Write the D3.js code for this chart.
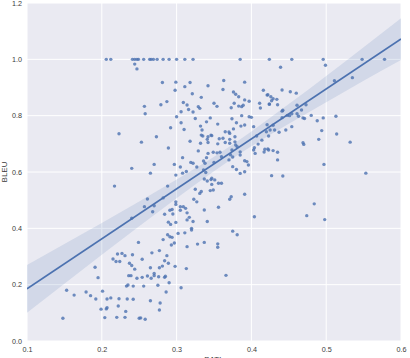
<!DOCTYPE html>
<html>
<head>
<meta charset="utf-8">
<script src="https://cdn.jsdelivr.net/npm/d3@7"></script>
<style>
    body { margin: 0; background: #fff; }
    svg { display: block; font-family: "Liberation Sans", Arial, sans-serif; }
</style>
</head>
<body>
<svg width="410" height="358"></svg>
<script>
// Scatter data: BATL score (x) and BLEU score (y), same index = same sentence
const batl = [
    0.206, 0.212, 0.241, 0.244, 0.247, 0.249, 0.256, 0.264, 0.266, 0.269, 0.274, 0.282, 0.290, 0.300, 0.311, 0.322, 0.385, 0.424, 0.454, 0.496, 0.548, 0.578,
    0.244, 0.247,
    0.281, 0.299, 0.318, 0.311, 0.298, 0.342, 0.363, 0.362, 0.321, 0.333, 0.376, 0.379, 0.383, 0.391, 0.391, 0.397, 0.416, 0.421,
    0.257, 0.279, 0.287, 0.309, 0.314, 0.329, 0.331, 0.316, 0.306, 0.322, 0.350, 0.354, 0.373, 0.377, 0.383, 0.387, 0.389, 0.411, 0.412, 0.424,
    0.258, 0.300, 0.345, 0.387, 0.397, 0.400, 0.374,
    0.439, 0.499, 0.511, 0.535, 0.441, 0.452, 0.460, 0.422, 0.426, 0.429, 0.434, 0.427, 0.424, 0.435, 0.461, 0.473, 0.442, 0.467, 0.454, 0.461, 0.448, 0.463, 0.480, 0.469, 0.496, 0.513,
    0.340, 0.355, 0.332, 0.306, 0.292, 0.380, 0.386, 0.391, 0.376, 0.370, 0.365, 0.371, 0.378, 0.379, 0.381, 0.362, 0.371, 0.334, 0.335, 0.341, 0.347, 0.342, 0.332, 0.355, 0.365, 0.318, 0.310, 0.325,
    0.253, 0.273, 0.289, 0.308, 0.329, 0.342, 0.349, 0.354, 0.358, 0.360, 0.340, 0.336, 0.338, 0.350, 0.319, 0.327, 0.305, 0.297, 0.270, 0.240, 0.265, 0.308, 0.313, 0.299,
    0.372, 0.375, 0.370, 0.385, 0.391, 0.396, 0.375, 0.380, 0.385, 0.391, 0.405, 0.409, 0.404, 0.407, 0.418, 0.422, 0.420, 0.403, 0.414,
    0.337, 0.341, 0.346, 0.351, 0.349, 0.345, 0.347, 0.339, 0.360, 0.325, 0.333, 0.323, 0.327, 0.337, 0.356, 0.371, 0.373, 0.391, 0.404, 0.341,
    0.320, 0.317, 0.312, 0.309, 0.305, 0.314, 0.305, 0.314, 0.322, 0.299, 0.299, 0.294, 0.295, 0.284, 0.291, 0.289, 0.292, 0.261, 0.257, 0.270, 0.282, 0.288, 0.268, 0.240, 0.299,
    0.441, 0.451, 0.471, 0.441, 0.488, 0.421, 0.429, 0.454, 0.446, 0.437, 0.431, 0.425, 0.494, 0.514, 0.423, 0.490, 0.532, 0.469, 0.470, 0.417, 0.423, 0.429, 0.435, 0.435, 0.497, 0.553, 0.427, 0.442, 0.484, 0.474, 0.498,
    0.223, 0.217,
    0.249, 0.221, 0.227, 0.231, 0.215, 0.219, 0.224, 0.241, 0.237, 0.240, 0.244, 0.236, 0.239, 0.191, 0.195, 0.247, 0.235, 0.233, 0.242, 0.153, 0.163, 0.179, 0.185, 0.192,
    0.201, 0.207, 0.212, 0.223, 0.234, 0.242, 0.222, 0.232, 0.199, 0.206, 0.207, 0.204, 0.220, 0.231, 0.250, 0.148,
    0.288, 0.291, 0.294, 0.302, 0.311, 0.320, 0.282, 0.297, 0.293, 0.314, 0.328, 0.337, 0.355, 0.355, 0.375, 0.381,
    0.254, 0.267, 0.277, 0.287, 0.284, 0.289, 0.281, 0.277, 0.265, 0.298, 0.313, 0.254, 0.261, 0.266, 0.270, 0.270, 0.276, 0.284, 0.285, 0.290,
    0.256, 0.275, 0.286, 0.306, 0.366, 0.265, 0.278, 0.277, 0.252, 0.258,
    0.333, 0.342, 0.346, 0.357, 0.371, 0.378, 0.374, 0.385, 0.394, 0.403, 0.322, 0.336, 0.347, 0.356, 0.331
];
const bleu = [
    1.000, 1.000, 1.000, 1.000, 1.000, 1.000, 1.000, 1.000, 1.000, 1.000, 1.000, 1.000, 1.000, 1.000, 1.000, 1.000, 1.000, 1.000, 1.000, 1.000, 1.000, 1.000,
    0.983, 0.966,
    0.918, 0.919, 0.918, 0.903, 0.890, 0.906, 0.925, 0.893, 0.878, 0.865, 0.884, 0.876, 0.867, 0.919, 0.856, 0.851, 0.890, 0.873,
    0.833, 0.839, 0.850, 0.847, 0.838, 0.832, 0.826, 0.822, 0.814, 0.813, 0.844, 0.833, 0.828, 0.844, 0.834, 0.832, 0.837, 0.844, 0.827, 0.840,
    0.807, 0.796, 0.792, 0.800, 0.796, 0.794, 0.789,
    0.972, 0.979, 0.924, 0.935, 0.891, 0.885, 0.880, 0.874, 0.867, 0.860, 0.858, 0.853, 0.842, 0.839, 0.837, 0.839, 0.819, 0.820, 0.807, 0.807, 0.801, 0.798, 0.801, 0.792, 0.792, 0.798,
    0.778, 0.770, 0.763, 0.775, 0.757, 0.775, 0.763, 0.767, 0.753, 0.742, 0.743, 0.716, 0.707, 0.696, 0.690, 0.720, 0.702, 0.749, 0.728, 0.716, 0.729, 0.705, 0.702, 0.700, 0.705, 0.709, 0.751, 0.790,
    0.706, 0.725, 0.685, 0.651, 0.675, 0.666, 0.670, 0.668, 0.670, 0.654, 0.651, 0.639, 0.631, 0.634, 0.634, 0.618, 0.618, 0.627, 0.627, 0.613, 0.596, 0.596, 0.602, 0.589,
    0.661, 0.653, 0.643, 0.671, 0.640, 0.625, 0.619, 0.609, 0.595, 0.601, 0.666, 0.699, 0.686, 0.728, 0.681, 0.682, 0.743, 0.761, 0.713,
    0.575, 0.568, 0.573, 0.572, 0.536, 0.534, 0.556, 0.598, 0.560, 0.539, 0.531, 0.503, 0.494, 0.465, 0.475, 0.503, 0.512, 0.521, 0.441, 0.424,
    0.400, 0.439, 0.471, 0.477, 0.477, 0.455, 0.464, 0.430, 0.424, 0.485, 0.494, 0.467, 0.451, 0.450, 0.464, 0.422, 0.414, 0.504, 0.477, 0.480, 0.508, 0.550, 0.459, 0.436, 0.421,
    0.816, 0.800, 0.790, 0.793, 0.782, 0.768, 0.766, 0.761, 0.749, 0.741, 0.749, 0.749, 0.747, 0.735, 0.728, 0.716, 0.706, 0.704, 0.698, 0.671, 0.678, 0.676, 0.670, 0.643, 0.627, 0.596, 0.587, 0.586, 0.487, 0.445, 0.431,
    0.736, 0.550,
    0.350, 0.309, 0.311, 0.303, 0.291, 0.282, 0.282, 0.306, 0.276, 0.268, 0.255, 0.232, 0.232, 0.262, 0.225, 0.223, 0.199, 0.195, 0.195, 0.180, 0.163, 0.174, 0.161, 0.149,
    0.177, 0.149, 0.153, 0.150, 0.149, 0.148, 0.124, 0.105, 0.113, 0.114, 0.118, 0.083, 0.084, 0.084, 0.081, 0.081,
    0.377, 0.370, 0.368, 0.382, 0.384, 0.394, 0.360, 0.348, 0.341, 0.335, 0.344, 0.350, 0.345, 0.333, 0.390, 0.377,
    0.290, 0.313, 0.321, 0.303, 0.285, 0.276, 0.266, 0.260, 0.260, 0.265, 0.257, 0.226, 0.231, 0.223, 0.240, 0.232, 0.228, 0.226, 0.230, 0.207,
    0.195, 0.198, 0.174, 0.189, 0.233, 0.143, 0.135, 0.110, 0.082, 0.077,
    0.731, 0.725, 0.731, 0.718, 0.737, 0.725, 0.678, 0.660, 0.637, 0.678, 0.631, 0.607, 0.578, 0.560, 0.524
];

// Regression line and its confidence band
const fitX = [0.1, 0.6];
const fitY = [0.185, 1.072];
const bandX = [0.1, 0.15, 0.2, 0.25, 0.3, 0.35, 0.4, 0.45, 0.5, 0.55, 0.6];
const bandLow = [0.100, 0.203, 0.306, 0.407, 0.507, 0.603, 0.691, 0.771, 0.848, 0.924, 0.998];
const bandHigh = [0.270, 0.344, 0.419, 0.495, 0.573, 0.654, 0.744, 0.841, 0.941, 1.043, 1.146];

// Tick labels
const xTicks = [0.1, 0.2, 0.3, 0.4, 0.5, 0.6];
const yTicks = [0.0, 0.2, 0.4, 0.6, 0.8, 1.0, 1.2];

const blue = '#4C72B0';
const plotLeft = 27, plotRight = 401, plotTop = 3, plotBottom = 341;

const svg = d3.select('svg');

const xScale = d3.scaleLinear().domain([0.1, 0.6]).range([plotLeft, plotRight]);
const yScale = d3.scaleLinear().domain([0, 1.2]).range([plotBottom, plotTop]);

// seaborn darkgrid background
svg.append('rect')
    .attr('x', plotLeft).attr('y', plotTop)
    .attr('width', plotRight - plotLeft).attr('height', plotBottom - plotTop)
    .attr('fill', '#EAEAF2');

svg.append('defs').append('clipPath').attr('id', 'plotClip')
    .append('rect')
    .attr('x', plotLeft).attr('y', plotTop)
    .attr('width', plotRight - plotLeft).attr('height', plotBottom - plotTop);

// White grid lines
svg.append('g').selectAll('line').data(xTicks).join('line')
    .attr('x1', d => xScale(d)).attr('x2', d => xScale(d))
    .attr('y1', plotTop).attr('y2', plotBottom)
    .attr('stroke', '#fff').attr('stroke-width', 1);
svg.append('g').selectAll('line').data(yTicks).join('line')
    .attr('x1', plotLeft).attr('x2', plotRight)
    .attr('y1', d => yScale(d)).attr('y2', d => yScale(d))
    .attr('stroke', '#fff').attr('stroke-width', 1);

// Axes without tick marks or domain line
const xAxis = svg.append('g')
    .attr('transform', `translate(0,${plotBottom})`)
    .call(d3.axisBottom(xScale).tickValues(xTicks).tickSize(0).tickPadding(5.5).tickFormat(d3.format('.1f')));
const yAxis = svg.append('g')
    .attr('transform', `translate(${plotLeft},0)`)
    .call(d3.axisLeft(yScale).tickValues(yTicks).tickSize(0).tickPadding(5).tickFormat(d3.format('.1f')));
[xAxis, yAxis].forEach(a => {
    a.select('.domain').remove();
    a.selectAll('text').attr('fill', '#3a3a3a').style('font-size', '7.2px')
        .style('font-family', '"Liberation Sans", Arial, sans-serif');
});

const plot = svg.append('g').attr('clip-path', 'url(#plotClip)');

// Scatter points
plot.append('g').selectAll('circle').data(batl.map((b, i) => [b, bleu[i]])).join('circle')
    .attr('cx', d => xScale(d[0]))
    .attr('cy', d => yScale(d[1]))
    .attr('r', 1.7)
    .attr('fill', blue)
    .attr('fill-opacity', 0.8);

// Confidence band
const area = d3.area()
    .x(d => xScale(d[0]))
    .y0(d => yScale(d[1]))
    .y1(d => yScale(d[2]))
    .curve(d3.curveMonotoneX);
plot.append('path')
    .datum(bandX.map((v, i) => [v, bandLow[i], bandHigh[i]]))
    .attr('d', area)
    .attr('fill', blue)
    .attr('fill-opacity', 0.15);

// Regression line
plot.append('path')
    .datum(fitX.map((v, i) => [v, fitY[i]]))
    .attr('d', d3.line().x(d => xScale(d[0])).y(d => yScale(d[1])))
    .attr('fill', 'none')
    .attr('stroke', blue)
    .attr('stroke-width', 1.7);

// Axis titles (x title sits at the bottom edge, partly cut off as in the original)
svg.append('text')
    .attr('x', (plotLeft + plotRight) / 2).attr('y', 362)
    .attr('text-anchor', 'middle')
    .attr('fill', '#3a3a3a')
    .style('font-size', '8px')
    .text('BATL');
svg.append('text')
    .attr('transform', `translate(7,${(plotTop + plotBottom) / 2}) rotate(-90)`)
    .attr('text-anchor', 'middle')
    .attr('fill', '#3a3a3a')
    .style('font-size', '8px')
    .text('BLEU');
</script>
</body>
</html>
